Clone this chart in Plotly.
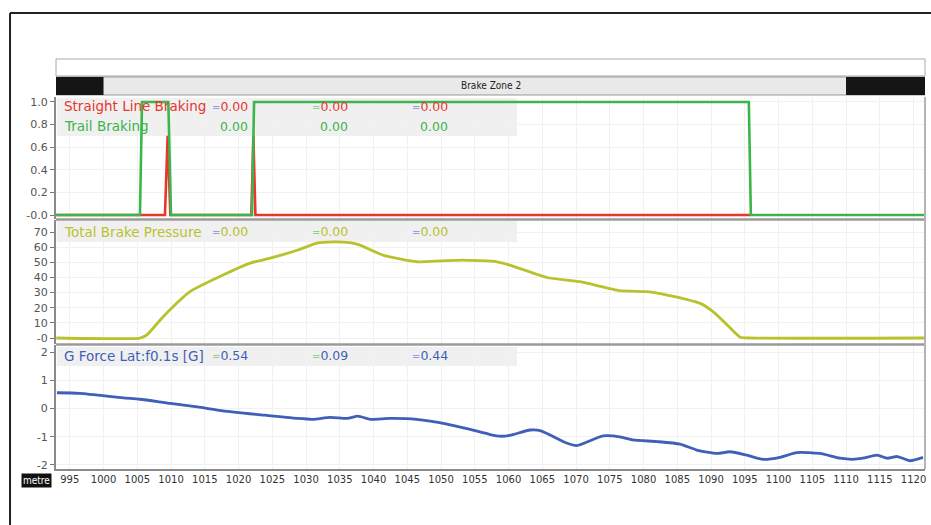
import plotly.graph_objects as go

# ---- distance channel data (metres) ----
trail_dist = [993.0, 1005.4, 1005.7, 1009.6, 1010.0, 1022.0, 1022.3, 1095.6, 1095.9, 1121.7]
trail_val = [0, 0, 1, 1, 0, 0, 1, 1, 0, 0]

straight_dist = [993.0, 1009.1, 1009.5, 1009.9, 1021.9, 1022.2, 1022.5, 1095.8]
straight_val = [0, 0, 0.7, 0, 0, 0.7, 0, 0]

pressure_dist = [993.0, 1005.4, 1006.4, 1008.8, 1012.8, 1017.7, 1021.7, 1024.7, 1028.7,
                 1031.6, 1034.0, 1036.5, 1038.0, 1041.4, 1046.4, 1050.0, 1053.2, 1058.3,
                 1060.2, 1065.7, 1070.6, 1076.5, 1080.5, 1083.5, 1088.4, 1090.3, 1092.4,
                 1094.3, 1095.5, 1121.7]
pressure_val = [0, 0, 2, 13.9, 30.6, 41.6, 49.5, 52.8, 58, 62.7, 63.5, 63, 61.4, 54.8,
                50.4, 51, 51.5, 50.4, 48.2, 40, 37.2, 31.3, 30.6, 28.4, 22.9, 17.4, 8.6,
                0.5, 0, 0]

glat_dist = [993.1, 996.5, 1002.9, 1005.4, 1009.9, 1013.9, 1017.7, 1023.6, 1028.7, 1031.0,
             1033.6, 1036.1, 1037.7, 1039.5, 1042.4, 1046.4, 1050.9, 1054.3, 1057.3, 1058.7,
             1060.2, 1063.2, 1064.7, 1068.7, 1070.1, 1074.0, 1076.5, 1078.4, 1082.0, 1085.4,
             1087.9, 1090.9, 1092.8, 1095.3, 1097.7, 1100.2, 1102.7, 1106.1, 1109.1, 1111.0,
             1112.5, 1114.6, 1116.1, 1117.6, 1119.5, 1121.4]
glat_val = [0.56, 0.54, 0.38, 0.33, 0.18, 0.06, -0.08, -0.23, -0.35, -0.38,
            -0.31, -0.35, -0.27, -0.38, -0.35, -0.38, -0.55, -0.74, -0.92, -0.98,
            -0.95, -0.76, -0.78, -1.23, -1.31, -0.97, -1.0, -1.11, -1.17, -1.26,
            -1.47, -1.59, -1.53, -1.65, -1.80, -1.73, -1.56, -1.59, -1.76, -1.80,
            -1.76, -1.65, -1.76, -1.70, -1.85, -1.73]

x_ticks = list(range(995, 1121, 5))
zone_start, zone_end = 1000, 1110
x_range = [992.96, 1121.7]

RED = "#e8352e"
GREEN = "#3cb54a"
OLIVE = "#b8c22c"
BLUE = "#3f5fb8"
FONT = "DejaVu Sans"

fig = go.Figure()
fig.add_trace(go.Scatter(x=straight_dist, y=straight_val, mode="lines",
                         line=dict(color=RED, width=2.6), xaxis="x", yaxis="y"))
fig.add_trace(go.Scatter(x=trail_dist, y=trail_val, mode="lines",
                         line=dict(color=GREEN, width=2.6), xaxis="x", yaxis="y"))
fig.add_trace(go.Scatter(x=pressure_dist, y=pressure_val, mode="lines",
                         line=dict(color=OLIVE, width=2.8, shape="spline", smoothing=0.5),
                         xaxis="x", yaxis="y2"))
fig.add_trace(go.Scatter(x=glat_dist, y=glat_val, mode="lines",
                         line=dict(color=BLUE, width=2.8, shape="spline", smoothing=0.6),
                         xaxis="x", yaxis="y3"))

yax = dict(showline=True, linecolor="#8a8a8a", linewidth=2, ticks="outside", ticklen=4,
           tickcolor="#777", tickfont=dict(family=FONT, size=11, color="#555"),
           showgrid=True, gridcolor="#f1f1f1", zeroline=False, anchor="x", fixedrange=True)

fig.update_layout(
    width=931, height=525,
    margin=dict(l=56, r=6, t=97, b=56),
    paper_bgcolor="white", plot_bgcolor="white",
    showlegend=False,
    xaxis=dict(range=x_range, tickvals=x_ticks, ticktext=[str(v) for v in x_ticks],
               ticks="", showline=True, linecolor="#8a8a8a", linewidth=2,
               showgrid=True, gridcolor="#f1f1f1", zeroline=False, anchor="y3",
               tickfont=dict(family=FONT, size=10, color="#333"), tickangle=0),
    yaxis=dict(domain=[0.672, 1.0], range=[-0.0354, 1.044],
               tickvals=[0, 0.2, 0.4, 0.6, 0.8, 1.0],
               ticktext=["-0.0", "0.2", "0.4", "0.6", "0.8", "1.0"], **yax),
    yaxis2=dict(domain=[0.336, 0.669], range=[-3.96, 77.92],
                tickvals=[0, 10, 20, 30, 40, 50, 60, 70],
                ticktext=["-0", "10", "20", "30", "40", "50", "60", "70"], **yax),
    yaxis3=dict(domain=[0.0, 0.333], range=[-2.142, 2.248],
                tickvals=[-2, -1, 0, 1, 2],
                ticktext=["-2", "-1", "0", "1", "2"], **yax),
)

shapes = []
# outer frame
shapes.append(dict(type="line", xref="paper", yref="paper", x0=-0.0529, x1=1.01,
                   y0=1.2258, y1=1.2258, line=dict(color="#222", width=2)))
shapes.append(dict(type="line", xref="paper", yref="paper", x0=-0.0529, x1=-0.0529,
                   y0=-0.16, y1=1.2258, line=dict(color="#222", width=2)))
# empty header bar
shapes.append(dict(type="rect", xref="paper", yref="paper", x0=0, x1=1,
                   y0=1.0565, y1=1.1022, fillcolor="white", line=dict(color="#aaa", width=1)))
# brake zone bar
shapes.append(dict(type="rect", xref="x", yref="paper", x0=x_range[0], x1=x_range[1],
                   y0=1.0054, y1=1.0538, fillcolor="#e9e9e9", line=dict(color="#999", width=1)))
shapes.append(dict(type="rect", xref="x", yref="paper", x0=x_range[0], x1=zone_start,
                   y0=1.0054, y1=1.0538, fillcolor="#151515", line=dict(width=0)))
shapes.append(dict(type="rect", xref="x", yref="paper", x0=zone_end, x1=x_range[1],
                   y0=1.0054, y1=1.0538, fillcolor="#151515", line=dict(width=0)))
# label bands behind channel names
for y0, y1 in [(0.8952, 0.9973), (0.6102, 0.6667), (0.2769, 0.3280)]:
    shapes.append(dict(type="rect", xref="paper", yref="paper", x0=0.001, x1=0.5305,
                       y0=y0, y1=y1, fillcolor="#f0f0f0", line=dict(width=0), layer="below"))
# panel separators and right edge
for yp in [0.6705, 0.3347]:
    shapes.append(dict(type="line", xref="paper", yref="paper", x0=0, x1=1, y0=yp, y1=yp,
                       line=dict(color="#9a9a9a", width=2.5)))
shapes.append(dict(type="line", xref="paper", yref="paper", x0=1, x1=1, y0=0, y1=1.0,
                   line=dict(color="#b5b5b5", width=2)))
fig.update_layout(shapes=shapes)

def mark(c):
    return f'<span style="color:{c};font-size:10px">=</span>'

MK1, MK2, MK3 = "#9a9ae0", "#8fd08f", "#9a9ae0"
cols = [0.2232, 0.3383, 0.4534]

ann = []
ann.append(dict(x=0.5, y=1.0296, text="Brake Zone 2", xanchor="center",
                font=dict(family="DejaVu Sans Condensed", size=10, color="#222")))
rows = [
    (0.9758, "Straight Line Braking", RED, [mark(MK1) + "0.00", mark(MK2) + "0.00", mark(MK3) + "0.00"]),
    (0.9220, "Trail Braking", GREEN, ["0.00", "0.00", "0.00"]),
    (0.6371, "Total Brake Pressure", OLIVE, [mark(MK1) + "0.00", mark(MK2) + "0.00", mark(MK3) + "0.00"]),
    (0.3038, "G Force Lat:f0.1s [G]", BLUE, [mark(MK2) + "0.54", mark(MK2) + "0.09", mark(MK3) + "0.44"]),
]
for yp, name, col, vals in rows:
    ann.append(dict(x=0.0069, y=yp, xanchor="left", text=name,
                    font=dict(family=FONT, size=13.5, color=col)))
    for xc, v in zip(cols, vals):
        ann.append(dict(x=xc, y=yp, xanchor="right", text=v,
                        font=dict(family=FONT, size=12.5, color=col)))
ann.append(dict(x=-0.0219, y=-0.0309, text="metre", bgcolor="#111", borderpad=1,
                xanchor="center",
                font=dict(family="DejaVu Sans Condensed", size=10, color="white")))
for a in ann:
    a.setdefault("xref", "paper")
    a.setdefault("yref", "paper")
    a.setdefault("showarrow", False)
    a.setdefault("yanchor", "middle")
fig.update_layout(annotations=ann)

fig.write_html("out.html")
